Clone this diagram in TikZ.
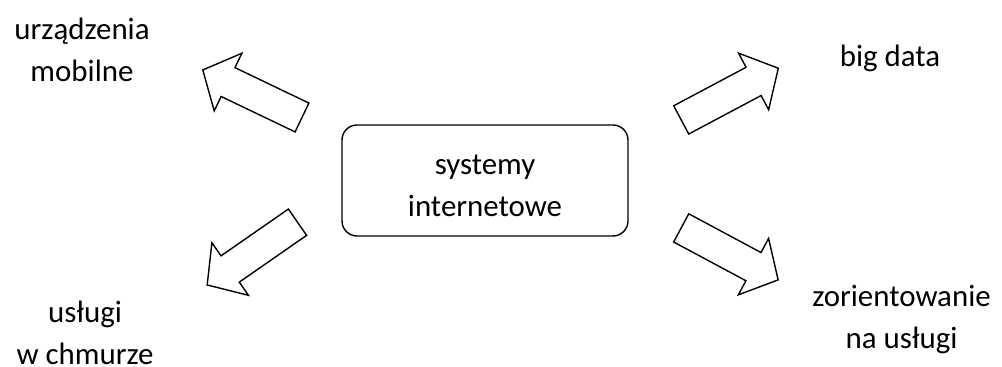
\documentclass[tikz,border=0pt]{standalone}
\usepackage{fontspec}
\setmainfont{Carlito}
\usetikzlibrary{positioning}

\begin{document}
\begin{tikzpicture}[x=1pt, y=-1pt,
  lbl/.style={font=\fontsize{30.9}{42}\selectfont, align=center, inner sep=0pt},
  mainbox/.style={draw, line width=1.4pt, rounded corners=15pt,
                  minimum width=286pt, minimum height=111pt},
  blockarr/.pic={
    \draw[line width=1.4pt, line join=miter]
      (0,-16) -- (82,-16) -- (82,-32) -- (110,0) -- (82,32) -- (82,16) -- (0,16) -- cycle;
  },
]
  \useasboundingbox (0,0) rectangle (1002,367);

  % central box
  \node[mainbox] (sys) at (485,180.5) {};
  \node[lbl, anchor=base] (systxt) at (485,216.5) {systemy\\internetowe};

  % arrows out of the box
  \coordinate (tl) at (302,117.5);
  \coordinate (tr) at (681.2,119.9);
  \coordinate (bl) at (297.5,222.2);
  \coordinate (br) at (681.2,227.9);
  \pic[rotate=154.4] at (tl) {blockarr};
  \pic[rotate=28]    at (tr) {blockarr};
  \pic[rotate=214.8] at (bl) {blockarr};
  \pic[rotate=-28.2] at (br) {blockarr};

  % labels (base = last line)
  \node[lbl, anchor=base] (mob)  at (82,81)    {urządzenia\\mobilne};
  \node[lbl, anchor=base] (big)  at (890,66)   {big data};
  \node[lbl, anchor=base] (chm)  at (85,364)   {usługi\\w chmurze};
  \node[lbl, anchor=base] (usl)  at (901.5,348) {zorientowanie\\na usługi};
\end{tikzpicture}
\end{document}
